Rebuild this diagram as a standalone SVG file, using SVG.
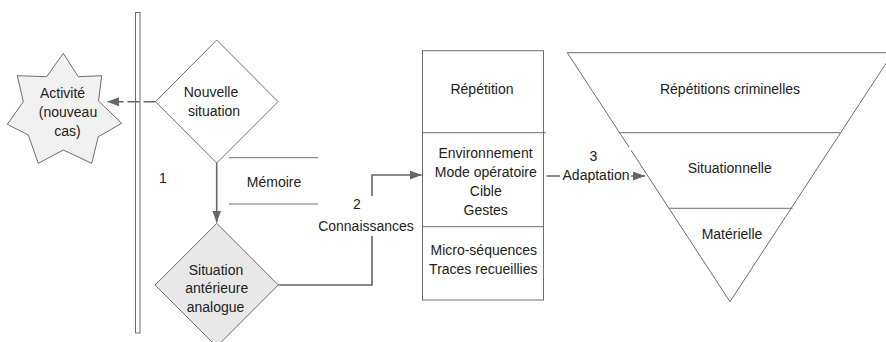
<svg xmlns="http://www.w3.org/2000/svg" width="886" height="342" viewBox="0 0 886 342">
<style>
  text { font-family: "Liberation Sans", Arial, sans-serif; font-size: 14px; fill: #222; text-anchor: middle; }
  .shape { stroke: #6e6e6e; stroke-width: 1; fill: #fff; }
  .line { stroke: #6e6e6e; stroke-width: 1; fill: none; }
  .conn { stroke: #666; stroke-width: 1.6; fill: none; }
  .bg { fill: #fff; stroke: none; }
</style>
<defs>
  <marker id="arrow" markerUnits="userSpaceOnUse" markerWidth="13" markerHeight="10" refX="12" refY="4.5" orient="auto">
    <path d="M0,0 L12,4.5 L0,9 z" fill="#666"/>
  </marker>
</defs>
<rect width="886" height="342" fill="#fff"/>

<g id="bar">
  <rect x="135.5" y="12.5" width="4.5" height="320.5" class="shape"/>
</g>

<g id="activite">
  <polygon class="shape" style="fill:#f1f1f1" points="63.3,53.3 78.3,76.7 101.7,75.7 98.5,101 121.7,123.3 98.3,136.7 91.7,163.3 63.3,150 38.3,163.3 28.3,135 7.3,124.3 23.3,101.7 17.3,75.7 46.7,76.7"/>
  <text x="62.5" y="98">Activité</text>
  <text x="68" y="117">(nouveau</text>
  <text x="67.5" y="136">cas)</text>
</g>

<g id="nouvelle-situation">
  <polygon class="shape" points="216.7,40 278,101.7 216.7,163 155.5,101.7"/>
  <text x="211" y="97">Nouvelle</text>
  <text x="214" y="116">situation</text>
</g>

<g id="memoire">
  <line class="line" x1="229" y1="157.7" x2="318" y2="157.7"/>
  <line class="line" x1="229" y1="204" x2="318" y2="204"/>
  <text x="274" y="187">Mémoire</text>
</g>

<g id="situation-anterieure">
  <polygon class="shape" style="fill:#e8e8e8" points="216.7,223.3 278.3,285 216.7,346.7 155,285"/>
  <text x="216" y="274.5">Situation</text>
  <text x="216.7" y="293">antérieure</text>
  <text x="215.5" y="311.5">analogue</text>
</g>

<g id="repetition">
  <rect class="shape" x="422.5" y="50.7" width="121" height="249.3"/>
  <line class="line" x1="422.5" y1="132.7" x2="545.7" y2="132.7"/>
  <line class="line" x1="422.5" y1="226.7" x2="543.5" y2="226.7"/>
  <text x="482" y="93.5">Répétition</text>
  <text x="485.5" y="158">Environnement</text>
  <text x="485.8" y="177">Mode opératoire</text>
  <text x="485.8" y="196">Cible</text>
  <text x="485.7" y="215">Gestes</text>
  <text x="483.8" y="255">Micro-séquences</text>
  <text x="483.3" y="274">Traces recueillies</text>
</g>

<g id="repetitions-criminelles">
  <polygon class="shape" points="567.3,52.7 893,52.7 730,301.7"/>
  <line class="line" x1="619.7" y1="132.7" x2="840.6" y2="132.7"/>
  <line class="line" x1="669.2" y1="208.3" x2="792.5" y2="208.3"/>
  <text x="730" y="93.5">Répétitions criminelles</text>
  <text x="729.7" y="173.3">Situationnelle</text>
  <text x="732" y="239.3">Matérielle</text>
</g>

<g id="connectors">
  <line class="conn" x1="155.5" y1="101.7" x2="107" y2="101.7" stroke-dasharray="12,4" marker-end="url(#arrow)"/>
  <line class="conn" x1="216.7" y1="163" x2="216.7" y2="222.5" marker-end="url(#arrow)"/>
  <text x="163" y="182.5">1</text>
  <path class="conn" d="M278.3,285 H372 V175 H421.7" marker-end="url(#arrow)"/>
  <rect class="bg" x="320" y="196" width="93" height="40"/>
  <text x="357" y="209">2</text>
  <text x="366" y="231">Connaissances</text>
  <line class="conn" x1="546.5" y1="176" x2="645" y2="176" marker-end="url(#arrow)"/>
  <rect class="bg" x="560" y="147" width="71" height="37"/>
  <text x="593.5" y="160.5">3</text>
  <text x="596" y="180">Adaptation</text>
</g>
</svg>
